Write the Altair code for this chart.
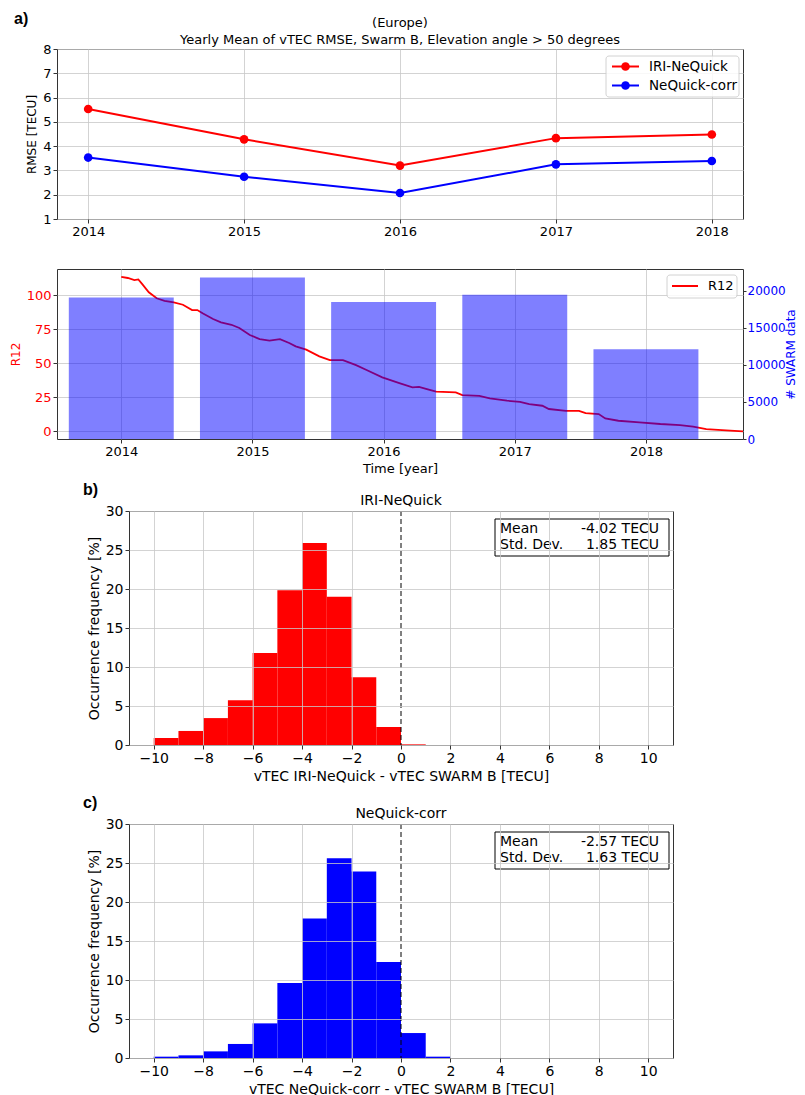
import altair as alt
import pandas as pd

RED = "#ff0000"
BLUE = "#0000ff"
FONT = "DejaVu Sans"

# ---------------- data ----------------
panel_labels = ["a)", "b)", "c)"]
title_a = ["(Europe)", "Yearly Mean of vTEC RMSE, Swarm B, Elevation angle > 50 degrees"]

years = [2014, 2015, 2016, 2017, 2018]
series_names = ["IRI-NeQuick", "NeQuick-corr"]
rmse_iri = [5.53, 4.28, 3.20, 4.33, 4.48]
rmse_corr = [3.53, 2.74, 2.07, 3.25, 3.39]

r12_time = [2014.00, 2014.05, 2014.10, 2014.13, 2014.16, 2014.21, 2014.27, 2014.33,
            2014.40, 2014.47, 2014.54, 2014.58, 2014.62, 2014.70, 2014.76, 2014.84,
            2014.90, 2014.98, 2015.055, 2015.13, 2015.21, 2015.28, 2015.33, 2015.41,
            2015.51, 2015.59, 2015.69, 2015.79, 2015.87, 2015.99, 2016.12, 2016.22,
            2016.27, 2016.33, 2016.40, 2016.55, 2016.60, 2016.73, 2016.81, 2016.94,
            2017.04, 2017.11, 2017.21, 2017.26, 2017.39, 2017.49, 2017.54, 2017.64,
            2017.69, 2017.79, 2017.95, 2018.11, 2018.26, 2018.36, 2018.46, 2018.61,
            2018.74]
r12_vals = [113.4, 112.5, 111.0, 111.5, 108.0, 102.0, 97.6, 95.8,
            94.6, 92.9, 89.0, 89.0, 86.6, 82.4, 80.0, 78.2,
            75.8, 70.7, 67.7, 66.5, 67.7, 64.8, 62.4, 59.9,
            55.0, 52.3, 52.3, 48.6, 45.0, 39.6, 35.4, 32.3,
            32.7, 31.0, 29.1, 28.6, 26.6, 26.1, 24.2, 22.5,
            21.7, 20.0, 18.8, 16.4, 15.1, 15.1, 13.4, 12.7,
            9.5, 7.8, 6.6, 5.4, 4.6, 3.4, 1.7, 0.7,
            0.0]
r12_label = ["R12"]
swarm_counts = [19100, 21800, 18500, 19450, 12100]

bin_starts_b = [-10, -9, -8, -7, -6, -5, -4, -3, -2, -1, 0]
freq_b = [0.9, 1.8, 3.45, 5.75, 11.8, 19.85, 25.9, 19.0, 8.7, 2.3, 0.08]
bin_starts_c = [-10, -9, -8, -7, -6, -5, -4, -3, -2, -1, 0, 1]
freq_c = [0.17, 0.34, 0.85, 1.8, 4.44, 9.6, 17.9, 25.6, 23.9, 12.3, 3.2, 0.17]

hist_titles = ["IRI-NeQuick", "NeQuick-corr"]
hist_xtitles = ["vTEC IRI-NeQuick - vTEC SWARM B [TECU]",
                "vTEC NeQuick-corr  - vTEC SWARM B [TECU]"]
stats_labels = ["Mean", "Std. Dev."]
stats_b = ["-4.02 TECU", "1.85 TECU"]
stats_c = ["-2.57 TECU", "1.63 TECU"]


def one(v):
    return pd.DataFrame({"v": [v]})


def txt(v, x, y, size=12, align="center", baseline="middle", bold=False, font=FONT, color="black"):
    return alt.Chart(one(v)).mark_text(
        align=align, baseline=baseline, fontSize=size, font=font,
        fontWeight="bold" if bold else "normal", color=color
    ).encode(x=alt.value(x), y=alt.value(y), text="v:N")


def box(x0, x1, y0, y1, stroke="#cccccc", radius=3, opacity=0.85):
    return alt.Chart(one(0)).mark_rect(
        fill="white", stroke=stroke, strokeWidth=1, cornerRadius=radius, opacity=opacity
    ).encode(x=alt.value(x0), x2=alt.value(x1), y=alt.value(y0), y2=alt.value(y1))


# ---------------- panel a ----------------
W_TOP, H_TOP = 686, 170
df_a = pd.DataFrame({
    "year": years + years,
    "rmse": rmse_iri + rmse_corr,
    "series": [series_names[0]] * len(years) + [series_names[1]] * len(years),
})
cscale = alt.Scale(domain=series_names, range=[RED, BLUE])
xa = alt.X("year:Q", scale=alt.Scale(domain=[2013.8, 2018.2], nice=False, zero=False),
           axis=alt.Axis(values=years, format="d", title=None, labelFontSize=13))
ya = alt.Y("rmse:Q", scale=alt.Scale(domain=[1, 8], nice=False, zero=False),
           axis=alt.Axis(values=list(range(1, 9)), title="RMSE [TECU]", labelFontSize=13))
lines_a = alt.Chart(df_a).mark_line(strokeWidth=2).encode(
    x=xa, y=ya, color=alt.Color("series:N", scale=cscale, legend=None))
pts_a = alt.Chart(df_a).mark_circle(size=75, opacity=1).encode(
    x=xa, y=ya, color=alt.Color("series:N", scale=cscale, legend=None))

leg_a = [box(549, 682, 7, 48)]
for i, (name, col) in enumerate(zip(series_names, [RED, BLUE])):
    yy = 17.5 + i * 19
    leg_a.append(alt.Chart(one(name)).mark_rule(color=col, strokeWidth=2).encode(
        x=alt.value(555), x2=alt.value(582), y=alt.value(yy)))
    leg_a.append(alt.Chart(one(name)).mark_circle(color=col, size=75, opacity=1).encode(
        x=alt.value(568.5), y=alt.value(yy)))
    leg_a.append(txt(name, 592, yy, 13.5, align="left"))

panel_a = alt.layer(
    lines_a, pts_a, *leg_a,
    txt(title_a[0], W_TOP / 2, -26, 13),
    txt(title_a[1], W_TOP / 2, -9, 13),
    txt(panel_labels[0], -43, -38, 16, align="left", baseline="top", bold=True, font="Liberation Sans"),
).properties(width=W_TOP, height=H_TOP)

# ---------------- panel R12 ----------------
df_r12 = pd.DataFrame({"t": r12_time, "r12": r12_vals})
df_sw = pd.DataFrame({"year": years, "count": swarm_counts})
xscale2 = alt.Scale(domain=[2013.51, 2018.74], nice=False, zero=False)
xaxis2 = alt.Axis(values=years, format="d", title="Time [year]", labelFontSize=13, titleFontSize=13)
line_r12 = alt.Chart(df_r12).mark_line(color=RED, strokeWidth=1.8).encode(
    x=alt.X("t:Q", scale=xscale2, axis=xaxis2),
    y=alt.Y("r12:Q", scale=alt.Scale(domain=[-5.6, 119.1], nice=False, zero=False),
            axis=alt.Axis(values=[0, 25, 50, 75, 100], title="R12", labelFontSize=13,
                          titleColor=RED, labelColor=RED)))
bars_sw = alt.Chart(df_sw).transform_calculate(
    x0="datum.year - 0.4", x1="datum.year + 0.4"
).mark_rect(color=BLUE, opacity=0.5).encode(
    x=alt.X("x0:Q", scale=xscale2, axis=xaxis2),
    x2="x1:Q",
    y=alt.Y("count:Q", scale=alt.Scale(domain=[0, 22937], nice=False),
            axis=alt.Axis(values=[0, 5000, 10000, 15000, 20000], orient="right", format="d",
                          title="# SWARM data", titleColor=BLUE, labelColor=BLUE,
                          labelFontSize=12, titleFontSize=12, grid=False, titleAngle=270,
                          titleBaseline="top", titlePadding=0, tickSize=3, labelPadding=1)),
    y2=alt.datum(0),
)
leg_2 = alt.layer(
    box(610, 680, 6, 29),
    alt.Chart(one(r12_label[0])).mark_rule(color=RED, strokeWidth=2).encode(
        x=alt.value(615), x2=alt.value(641), y=alt.value(17)),
    txt(r12_label[0], 651, 17, 13, align="left"),
)
panel_2 = alt.layer(line_r12, bars_sw, leg_2).resolve_scale(y="independent").properties(
    width=W_TOP, height=H_TOP)

# ---------------- histograms ----------------
W_H, H_H = 544, 234
grid_cond = {"condition": {"test": "datum.value === 0", "value": "transparent"}, "value": "#c8c8c8"}


def hist(starts, freqs, color, title, xtitle, stats, label):
    df = pd.DataFrame({"x0": starts, "f": freqs})
    df["x1"] = df["x0"] + 1
    xs = alt.Scale(domain=[-11, 11], nice=False, zero=False)
    bars = alt.Chart(df).mark_rect(color=color).encode(
        x=alt.X("x0:Q", scale=xs,
                axis=alt.Axis(values=list(range(-10, 11, 2)), title=xtitle, zindex=1,
                              labelFontSize=14, titleFontSize=14, gridColor=grid_cond)),
        x2="x1:Q",
        y=alt.Y("f:Q", scale=alt.Scale(domain=[0, 30], nice=False),
                axis=alt.Axis(values=list(range(0, 31, 5)), title="Occurrence frequency [%]",
                              zindex=1, labelFontSize=14, titleFontSize=14)),
        y2=alt.datum(0),
    )
    zero = alt.Chart(one(0)).mark_rule(color="black", strokeDash=[5, 3], strokeWidth=1).encode(
        x=alt.datum(0))
    layers = [bars, zero, box(366, 540, 8, 45, stroke="black", radius=0, opacity=1)]
    for i, (lab, val) in enumerate(zip(stats_labels, stats)):
        yy = 18 + i * 15.5
        layers.append(txt(lab, 371, yy, 14, align="left"))
        layers.append(txt(val, 530, yy, 14, align="right"))
    layers.append(txt(title, W_H / 2, -10, 14))
    layers.append(txt(label, -46, -29, 16, align="left", baseline="top", bold=True, font="Liberation Sans"))
    return alt.layer(*layers).properties(width=W_H, height=H_H)


hist_b = hist(bin_starts_b, freq_b, RED, hist_titles[0], hist_xtitles[0], stats_b, panel_labels[1])
hist_c = hist(bin_starts_c, freq_c, BLUE, hist_titles[1], hist_xtitles[1], stats_c, panel_labels[2])

spacer = alt.Chart(one(0)).mark_point(opacity=0, size=1).encode(
    x=alt.value(10), y=alt.value(10)
).properties(width=25, height=20, view=alt.ViewBackground(strokeOpacity=0))

top = alt.vconcat(panel_a, panel_2, spacing=29)
bottom = alt.hconcat(spacer, alt.vconcat(hist_b, hist_c, spacing=10), spacing=0)

chart = alt.vconcat(top, bottom, spacing=5).properties(
    padding={"left": 0, "top": 2, "right": 0, "bottom": 0}
).configure_view(
    stroke="#333333", strokeWidth=1
).configure_axis(
    labelFont=FONT, titleFont=FONT, labelFontSize=12, titleFontSize=12,
    titleFontWeight="normal", labelColor="black", titleColor="black",
    gridColor="#c8c8c8", gridWidth=0.8, domain=False, tickColor="#333333",
    tickSize=4, labelPadding=2, titlePadding=4,
)

chart.save("out.html", embed_options={"renderer": "svg", "actions": False})
